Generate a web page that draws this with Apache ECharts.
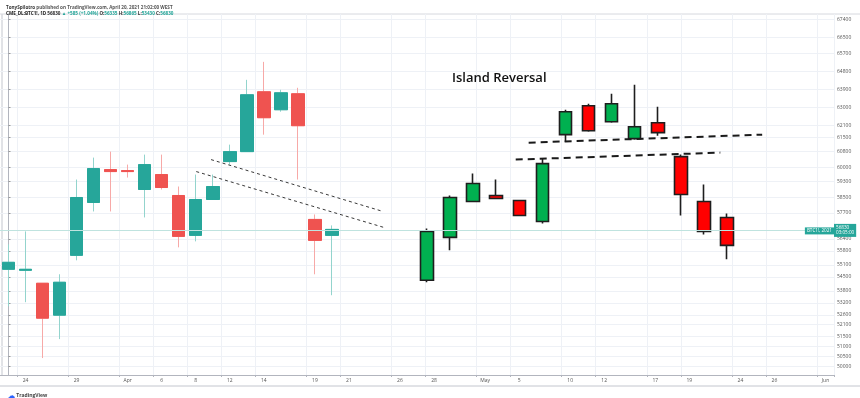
<!DOCTYPE html>
<html><head><meta charset="utf-8">
<script src="https://cdn.jsdelivr.net/npm/echarts@6/dist/echarts.min.js"></script>
<style>html,body{margin:0;padding:0;background:#fff}#c{width:860px;height:398px}</style>
</head><body><div id="c"></div>
<script>
// Trading days (categories)
const categories = ['03-23','03-24','03-25','03-26','03-29','03-30','03-31','04-01','04-05','04-06','04-07','04-08','04-09','04-12','04-13','04-14','04-15','04-16','04-19','04-20','04-21','04-22','04-23','04-26','04-27','04-28','04-29','04-30','05-03','05-04','05-05','05-06','05-07','05-10','05-11','05-12','05-13','05-14','05-17','05-18','05-19','05-20','05-21','05-24','05-25','05-26','05-27','05-28','06-01'];
const xTickLabels = {'03-24':'24','03-29':'29','04-01':'Apr','04-06':'6','04-08':'8','04-12':'12','04-14':'14','04-19':'19','04-21':'21','04-26':'26','04-28':'28','05-03':'May','05-05':'5','05-10':'10','05-12':'12','05-17':'17','05-19':'19','05-24':'24','05-26':'26','06-01':'Jun'};
// BTC1! daily OHLC (CME)
const tvOpen  = [54880,54830,54180,52580,55580,58230,59880,59830,58880,59630,58580,56580,58380,60280,60780,63780,62880,63680,57380,56580];
const tvClose = [55230,54880,52430,54230,58480,59930,59780,59780,60130,58980,56530,58380,59030,60780,63630,62480,63730,62080,56330,56880];
const tvLow   = [53030,53230,50430,51380,55330,57780,57780,59480,57480,58880,55980,56280,58380,60130,60780,61630,62780,59380,54630,53580];
const tvHigh  = [56130,56780,54180,54630,59380,60480,60780,60130,60630,60630,59030,59630,59630,61130,64380,65280,63880,63980,57630,57080];
// Illustrated candles (island reversal sketch)
const ilOpen  = [54330,56480,58280,58580,58330,57280,61630,63080,62280,61430,62230,60530,58280,57480];
const ilClose = [56780,58480,59180,58430,57580,60180,62780,61830,63180,62030,61730,58630,56780,56080];
const ilLow   = [54230,55830,58280,58430,57555,57180,61280,61780,62230,61380,61580,57580,56630,55380];
const ilHigh  = [56930,58580,59680,59380,58355,60430,62880,63180,63680,64130,63030,60630,59130,57680];
// Trend lines: [dayIndex, price]
const thinLine1 = [[11.9,60380],[22.0,57780]];
const thinLine2 = [[11.03,59780],[22.05,56980]];
const thickUpper = [[30.56,61230],[44.28,61630]];
const thickLower = [[29.8,60380],[41.82,60730]];
// Price axis tick labels
const yTicks = [67400,66500,65700,64800,63900,63000,62100,61500,60800,60000,59300,58500,57700,56400,55800,55100,54500,53800,53200,52600,52100,51500,51000,50500,50000];
const lastPrice = 56830;
const yMin = 49580, yMax = 67680;

const UP='#26a69a', DN='#ef5350', UPW='#93d4cd', DNW='#f7a9a7';
const tvWick = tvOpen.map((o,i)=>[o,tvClose[i],tvLow[i],tvHigh[i]]);
const tvBody = tvOpen.map((o,i)=>[o,tvClose[i],Math.min(o,tvClose[i]),Math.max(o,tvClose[i])]);
const ilData = ilOpen.map((o,i)=>[o,ilClose[i],ilLow[i],ilHigh[i]]);
const ilCats = ilOpen.map((_,i)=>'c'+i);
const showTick = (i,v)=> xTickLabels[v]!==undefined;
const FONT = 'Open Sans, Noto Sans, sans-serif';
const GRIDC = '#eef1f6';

const chart = echarts.init(document.getElementById('c'),null,{renderer:'canvas'});
chart.setOption({
  animation:false,
  backgroundColor:'#fff',
  textStyle:{fontFamily:FONT},
  title:[
    {text:'Island Reversal',left:447,top:67,textStyle:{fontSize:13,fontWeight:600,color:'#111',fontFamily:FONT}},
    {text:'{b|TonySpilotro} published on TradingView.com, April 20, 2021 21:02:00 WEST',left:1,top:0,
     textStyle:{fontSize:4.6,color:'#555',fontFamily:FONT,rich:{b:{fontSize:4.6,fontWeight:'bold',color:'#333'}}}},
    {text:'{b|CME_DL:BTC1!, 1D} 56830 {g|▲ +585 (+1.04%)} O:{g|56335} H:{g|56865} L:{g|53430} C:{g|56830}',left:1,top:6,
     textStyle:{fontSize:4.6,color:'#333',fontFamily:FONT,rich:{b:{fontSize:4.6,fontWeight:'bold',color:'#222'},g:{fontSize:4.6,color:'#26a69a'}}}},
    {text:'{i|☁} TradingView',left:3,top:387,textStyle:{fontSize:5,color:'#444',fontFamily:FONT,rich:{i:{fontSize:7,color:'#2962ff'}}}}
  ],
  grid:[
    {left:-1.5,right:26,top:14,bottom:23},
    {left:415.46,right:121.4,top:14,bottom:23}
  ],
  xAxis:[
    {type:'category',data:categories,gridIndex:0,boundaryGap:true,
     axisLine:{lineStyle:{color:'#b2b5be',width:1}},
     axisTick:{show:true,interval:showTick,length:2,lineStyle:{color:'#b2b5be'}},
     axisLabel:{interval:showTick,formatter:v=>xTickLabels[v]||'',fontSize:5,color:'#555',margin:3},
     splitLine:{show:true,interval:showTick,lineStyle:{color:GRIDC,width:1}}},
    {type:'value',gridIndex:0,min:-0.5,max:48.5,show:false,position:'top'},
    {type:'category',data:ilCats,gridIndex:1,boundaryGap:true,show:false}
  ],
  yAxis:[
    {type:'value',gridIndex:0,position:'right',min:yMin,max:yMax,scale:true,
     axisLine:{show:true,lineStyle:{color:'#b2b5be'}},
     axisTick:{show:true,length:2,customValues:yTicks,lineStyle:{color:'#999'}},
     axisLabel:{customValues:yTicks,fontSize:5,color:'#555',margin:3,formatter:v=>String(v)},
     splitLine:{show:true,lineStyle:{color:GRIDC,width:1}}},
    {type:'value',gridIndex:1,min:yMin,max:yMax,show:false}
  ],
  graphic:[
    {type:'line',shape:{x1:2,y1:14,x2:2,y2:375},style:{stroke:'#c3c6ce',lineWidth:1}},
    {type:'line',shape:{x1:0,y1:14,x2:860,y2:14},style:{stroke:'#d6d8de',lineWidth:1}},
    {type:'line',shape:{x1:0,y1:386,x2:860,y2:386},style:{stroke:'#c3c6ce',lineWidth:1}}
  ],
  series:[
    {type:'candlestick',xAxisIndex:0,yAxisIndex:0,data:tvWick,barWidth:13,z:2,
     itemStyle:{color:UPW,color0:DNW,borderColor:UPW,borderColor0:DNW,borderWidth:1},
     markLine:{symbol:'none',silent:true,animation:false,
       data:[{yAxis:lastPrice,lineStyle:{color:'#bfe3df',type:'solid',width:1},
         label:{show:true,position:'insideEndTop',formatter:'BTC1!, 2021',backgroundColor:UP,color:'#fff',fontSize:4.6,padding:[1,2],distance:[0,-4]}}]}},
    {type:'candlestick',xAxisIndex:0,yAxisIndex:0,data:tvBody,barWidth:13,z:3,
     itemStyle:{color:UP,color0:DN,borderColor:UP,borderColor0:DN,borderWidth:1},
     markLine:{symbol:'none',silent:true,animation:false,
       data:[
        {yAxis:lastPrice,lineStyle:{color:'#bfe3df',type:'solid',width:1},
         label:{show:true,position:'end',formatter:'56830\n03:05:00',backgroundColor:UP,color:'#fff',fontSize:4.6,padding:[1,2],distance:0,lineHeight:5.5}}
       ]}},
    {type:'candlestick',xAxisIndex:2,yAxisIndex:1,data:ilData,barWidth:13,z:4,
     itemStyle:{color:'#00b050',color0:'#ff0000',borderColor:'#1e1e1e',borderColor0:'#1e1e1e',borderWidth:1.6}},
    {type:'line',xAxisIndex:1,yAxisIndex:0,data:thinLine1,symbol:'none',z:5,lineStyle:{color:'#222',width:0.9,type:[3,3]}},
    {type:'line',xAxisIndex:1,yAxisIndex:0,data:thinLine2,symbol:'none',z:5,lineStyle:{color:'#222',width:0.9,type:[3,3]}},
    {type:'line',xAxisIndex:1,yAxisIndex:0,data:thickUpper,symbol:'none',z:5,lineStyle:{color:'#1a1a1a',width:2,type:[7,5]}},
    {type:'line',xAxisIndex:1,yAxisIndex:0,data:thickLower,symbol:'none',z:5,lineStyle:{color:'#1a1a1a',width:2,type:[7,5]}}
  ]
});
</script></body></html>
